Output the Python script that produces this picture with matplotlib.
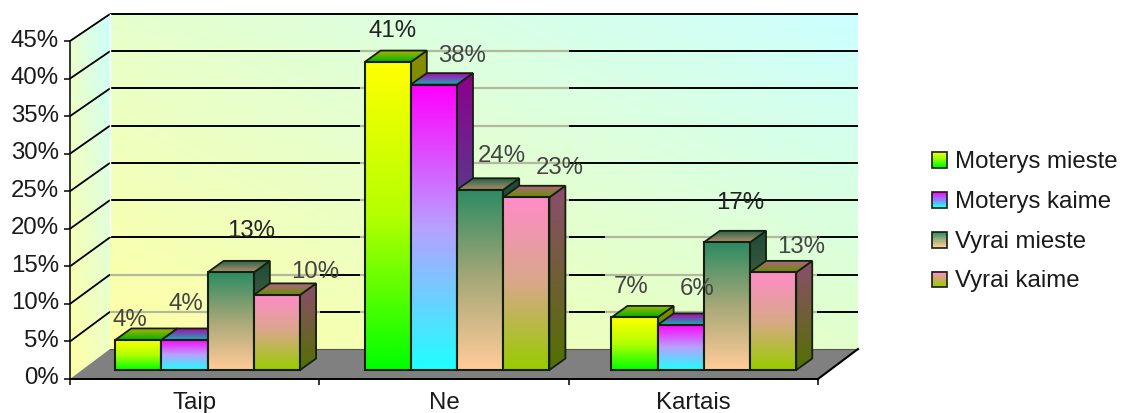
import numpy as np
import matplotlib
matplotlib.use('Agg')
import matplotlib.pyplot as plt
from matplotlib.colors import to_rgb
from matplotlib.legend_handler import HandlerBase
from matplotlib.patches import Patch, Polygon, Rectangle
from matplotlib.transforms import ScaledTranslation

plt.rcParams['font.family'] = ['Liberation Sans', 'DejaVu Sans']

categories = ['Taip', 'Ne', 'Kartais']
series_names = ['Moterys mieste', 'Moterys kaime', 'Vyrai mieste', 'Vyrai kaime']
moterys_mieste = [4, 41, 7]
moterys_kaime = [4, 38, 6]
vyrai_mieste = [13, 24, 17]
vyrai_kaime = [10, 23, 13]
series_values = [moterys_mieste, moterys_kaime, vyrai_mieste, vyrai_kaime]
y_ticks = [0, 5, 10, 15, 20, 25, 30, 35, 40, 45]

# gradient stops (top, middle, bottom) for each series
grad_top = ['#ffff00', '#ff00ff', '#2e8b63', '#ff8cc8']
grad_mid = ['#b4ff00', '#b8a0ff', '#a8a878', '#d8a888']
grad_bot = ['#00ff00', '#20ffff', '#ffcc99', '#99cc00']

# hand placed data labels, pixels away from the bar's top front centre
label_dx = [[-8, 5, -3], [1, 28, 16], [20, 22, 13], [38, 33, 28]]
label_dy = [[20, 31, 30], [36, 29, 36], [41, 34, 39], [23, 29, 25]]
label_col = [['#444444', '#222222', '#444444'], ['#444444', '#444444', '#444444'],
             ['#222222', '#444444', '#222222'], ['#444444', '#444444', '#444444']]

W, H = 1122, 413
PX_X = 249.33   # pixels per category
PX_Y = 7.51     # pixels per percent
X0, Y0 = 70, 379
FS = 17.3

fig = plt.figure(figsize=(W / 100, H / 100), dpi=100)
ax = fig.add_axes([0, 0, 1, 1])
ax.set_xlim(-X0 / PX_X, (W - X0) / PX_X)
ax.set_ylim((Y0 - H) / PX_Y, Y0 / PX_Y)
ax.set_autoscale_on(False)
ax.patch.set_alpha(0)

# depth of the box and of the bars, in data units
DX, DY = 40 / PX_X, 30 / PX_Y
TOP_DY = 27 / PX_Y
BX, BY = 16 / PX_X, 11.5 / PX_Y
OFFX, OFFY = 13 / PX_X, 9 / PX_Y
BAR_W = 46.2 / PX_X
group_x = [0.5, 1.5, 2.49]


def rgb(c, k=1.0):
    return np.array(to_rgb(c)) * k


def grad_fill(poly, c_tl, c_tr, c_bl, c_br, z, mid=None):
    # bilinear gradient clipped to a polygon, mid is an optional vertical middle stop
    poly = np.array(poly)
    n = 64
    tx = np.linspace(0, 1, n)[None, :, None]
    ty = np.linspace(0, 1, n)[:, None, None]
    if mid is None:
        arr = (rgb(c_tl) * (1 - tx) + rgb(c_tr) * tx) * (1 - ty) + (rgb(c_bl) * (1 - tx) + rgb(c_br) * tx) * ty
    else:
        f = ty[:, :, 0]
        arr = np.stack([np.interp(f, [0, .5, 1], [rgb(c_tl)[k], rgb(mid)[k], rgb(c_bl)[k]]) for k in range(3)], axis=2)
        arr = np.repeat(arr, n, axis=1)
    im = ax.imshow(np.clip(arr, 0, 1), extent=[poly[:, 0].min(), poly[:, 0].max(), poly[:, 1].min(), poly[:, 1].max()],
                   aspect='auto', origin='upper', interpolation='bilinear', zorder=z)
    clip = Polygon(poly, closed=True, transform=ax.transData)
    im.set_clip_path(clip)


# walls and floor
wall_r = 3 + DX
wall_l = DX
back = [(wall_l, DY), (wall_r, DY), (wall_r, 45 + TOP_DY), (wall_l, 45 + TOP_DY)]
grad_fill(back, '#e6ffcc', '#ccffff', '#ffffa6', '#e2ffcc', 1)
side = [(0, 0), (wall_l, DY), (wall_l, 45 + TOP_DY), (0, 45)]
grad_fill(side, '#e8ffd0', '#ccffff', '#ffffa6', '#f0ffc0', 1)
ax.add_patch(Polygon([(0, 0), (3, 0), (wall_r, DY), (wall_l, DY)], closed=True,
                     facecolor='#808080', edgecolor='none', zorder=1.5))
ax.plot([wall_l, wall_r], [DY, DY], color='#555555', lw=0.8, zorder=1.6)

# gridlines, black with the washed out stretches the original has
fx = lambda px: (px - X0) / PX_X
for v in y_ticks[1:]:
    yb = v + TOP_DY * (v / 45) + DY * (1 - v / 45)
    ax.plot([0, wall_l], [v, yb], color='black', lw=1.3, zorder=2, solid_capstyle='butt')
    ax.plot([wall_l, wall_r], [yb, yb], color='black', lw=1.4, zorder=2, solid_capstyle='butt')
    faded = []
    if v < 45:
        faded.append((360, 569))
    if v <= 10:
        faded.append((110, 320))
    if v <= 15:
        faded.append((605, 817))
    for a, b in faded:
        ax.plot([fx(a), fx(b)], [yb, yb], color='#b4b89c', lw=1.6, zorder=2.1, solid_capstyle='butt')
ax.plot([wall_l, wall_l], [45 + TOP_DY, 15 + DY], color='white', lw=1.0, zorder=2.2)
ax.plot([wall_r, 3], [DY, 0], color='black', lw=1.5, zorder=2.5)

# bars
edge = '#14200f'
z = 3
for j, gx in enumerate(group_x):
    start = gx - 2 * BAR_W + OFFX
    for i, vals in enumerate(series_values):
        v = vals[j]
        xl = start + i * BAR_W
        xr = xl + BAR_W
        yb = OFFY
        yt = OFFY + v
        t, m, b = grad_top[i], grad_mid[i], grad_bot[i]
        side_poly = [(xr, yb), (xr + BX, yb + BY), (xr + BX, yt + BY), (xr, yt)]
        grad_fill(side_poly, rgb(t, .55), rgb(t, .55), rgb(b, .55), rgb(b, .55), z)
        ax.add_patch(Polygon(side_poly, closed=True, fill=False, edgecolor=edge, lw=1.3, zorder=z + .1))
        top_poly = [(xl, yt), (xr, yt), (xr + BX, yt + BY), (xl + BX, yt + BY)]
        grad_fill(top_poly, rgb(t, .7), rgb(t, .7), rgb(b, .7), rgb(b, .7), z + .2)
        ax.add_patch(Polygon(top_poly, closed=True, fill=False, edgecolor=edge, lw=1.3, zorder=z + .3))
        front = [(xl, yb), (xr, yb), (xr, yt), (xl, yt)]
        grad_fill(front, t, t, b, b, z + .4, mid=m)
        ax.add_patch(Polygon(front, closed=True, fill=False, edgecolor=edge, lw=1.5, zorder=z + .5))
        z += 1

# data labels
for j, gx in enumerate(group_x):
    start = gx - 2 * BAR_W + OFFX
    for i, vals in enumerate(series_values):
        v = vals[j]
        ax.annotate('%d%%' % v, xy=(start + (i + .5) * BAR_W, OFFY + v),
                    xytext=(label_dx[i][j] * .72, label_dy[i][j] * .72), textcoords='offset points',
                    ha='center', va='center', fontsize=FS, color=label_col[i][j], zorder=100)

# axes
for s in ['top', 'right']:
    ax.spines[s].set_visible(False)
ax.spines['left'].set_position(('data', 0))
ax.spines['left'].set_bounds(0, 45)
ax.spines['bottom'].set_position(('data', 0))
ax.spines['bottom'].set_bounds(0, 3)
ax.spines['left'].set_linewidth(1.1)
ax.spines['bottom'].set_linewidth(1.4)
ax.spines['left'].set_zorder(50)
ax.spines['bottom'].set_zorder(50)
ax.set_yticks(y_ticks)
ax.set_yticklabels(['%d%%' % v for v in y_ticks], fontsize=FS, color='#1a1a1a')
ax.set_xticks([0, 1, 2, 3])
ax.set_xticklabels([])
ax.set_xticks([0.5, 1.5, 2.5], minor=True)
ax.set_xticklabels(categories, minor=True, fontsize=FS, color='#1a1a1a')
ax.tick_params(axis='x', which='major', length=4.5, width=1.1, direction='out')
ax.tick_params(axis='x', which='minor', length=0, pad=9.5)
ax.tick_params(axis='y', length=4.5, width=1.1, direction='out', pad=3.5)
# percent labels sit a little above their ticks
nudge = ScaledTranslation(0, 3 / 100, fig.dpi_scale_trans)
for lab in ax.get_yticklabels():
    lab.set_transform(lab.get_transform() + nudge)


class GradHandler(HandlerBase):
    def create_artists(self, legend, orig, xd, yd, width, height, fontsize, trans):
        c1, c2 = orig.grad
        out = []
        n = 14
        for k in range(n):
            f = k / (n - 1)
            col = rgb(c1) * (1 - f) + rgb(c2) * f
            out.append(Rectangle((0, height * (1 - (k + 1) / n)), width, height / n + .3, facecolor=col,
                                 edgecolor='none', transform=trans))
        out.append(Rectangle((0, 0), width, height, fill=False, edgecolor=edge, lw=1.2, transform=trans))
        return out


handles = []
for i in range(4):
    p = Patch(label=series_names[i])
    p.grad = (grad_top[i], grad_bot[i])
    handles.append(p)
leg = ax.legend(handles=handles, handler_map={Patch: GradHandler()}, loc='upper left',
                bbox_to_anchor=(932 / W, 1 - 151 / H), bbox_transform=fig.transFigure, frameon=False,
                fontsize=FS, labelcolor='#1a1a1a', handlelength=0.62, handleheight=0.62,
                handletextpad=0.33, labelspacing=0.74, borderpad=0, borderaxespad=0)

fig.savefig('out.png', dpi=100)
